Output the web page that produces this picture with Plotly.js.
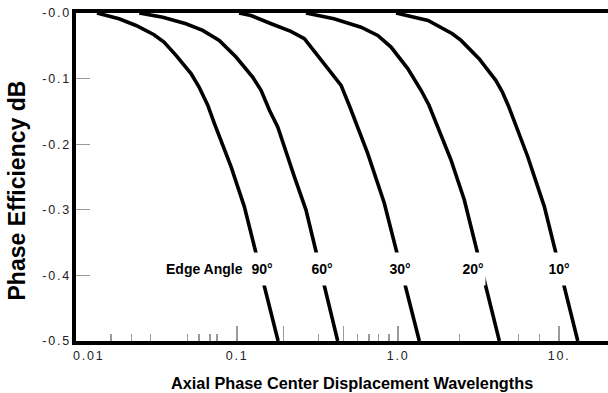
<!DOCTYPE html>
<html>
<head>
<meta charset="utf-8">
<script src="https://cdn.plot.ly/plotly-3.0.1.min.js"></script>
<style>
  html, body { margin: 0; padding: 0; background: #fff; }
  #chart { width: 608px; height: 393px; }
  .xtick text, .y2tick text { letter-spacing: 1.8px; }
</style>
</head>
<body>
<div id="chart"></div>
<script>
// ---- data ----
const angleNames = ['90°', '60°', '30°', '20°', '10°'];

const x90 = [0.0135, 0.0185, 0.0236, 0.0305, 0.0352, 0.0418, 0.0518, 0.0581, 0.0658, 0.0723, 0.0918, 0.111, 0.180];
const y90 = [0, -0.0088, -0.019, -0.0331, -0.0444, -0.0646, -0.0924, -0.1128, -0.1406, -0.1684, -0.2343, -0.2951, -0.5];

const x60 = [0.0247, 0.0346, 0.0482, 0.0612, 0.0776, 0.0986, 0.125, 0.141, 0.159, 0.179, 0.227, 0.268, 0.422];
const y60 = [0, -0.0064, -0.0164, -0.0266, -0.0418, -0.0672, -0.0976, -0.1178, -0.1482, -0.1736, -0.2495, -0.3001, -0.5];

const x30 = [0.103, 0.122, 0.163, 0.216, 0.262, 0.317, 0.384, 0.443, 0.503, 0.648, 0.822, 1.356];
const y30 = [0, -0.0038, -0.0164, -0.0281, -0.0392, -0.0646, -0.09, -0.1102, -0.1436, -0.214, -0.29, -0.5];

const x20 = [0.268, 0.400, 0.589, 0.748, 0.905, 1.149, 1.39, 1.557, 2.134, 2.581, 4.258];
const y20 = [0, -0.0088, -0.0216, -0.0342, -0.052, -0.0848, -0.1178, -0.1406, -0.2242, -0.285, -0.5];

const x10 = [0.972, 1.536, 2.174, 2.462, 3.185, 4.045, 4.444, 4.857, 6.392, 8.102, 13.07];
const y10 = [0, -0.0114, -0.0316, -0.0418, -0.0696, -0.1026, -0.1204, -0.1421, -0.2191, -0.2951, -0.5];

const seriesX = [x90, x60, x30, x20, x10];
const seriesY = [y90, y60, y30, y20, y10];

// tick labels and tick marks
const xLabelVals = [0.012, 0.1, 1, 10];
const xLabelText = ['0.01', '0.1', '1.0', '10.'];
const xMajorTicks = [0.1, 0.195, 0.46, 1, 10];
const xMinorTicks = [0.0165, 0.022, 0.029, 0.049, 0.058, 0.068, 0.075, 0.32, 0.56, 0.66, 0.76, 0.88, 2.4, 5.6, 7.6];
const yTickVals = [0, -0.1, -0.2, -0.3, -0.4, -0.5];
const yTickText = ['-0.0', '-0.1', '-0.2', '-0.3', '-0.4', '-0.5'];
const yInnerTicks = [-0.1, -0.2, -0.3, -0.4];

// titles and label positions
const xTitleText = 'Axial Phase Center Displacement Wavelengths';
const yTitleText = 'Phase Efficiency dB';
const angleLabelX = [0.143, 0.337, 1.03, 2.94, 9.93];
const angleLabelY = -0.39;
const edgeLabelX = 0.0624;
const edgeLabelText = 'Edge Angle';

// ---- build chart ----
const FONT = 'Liberation Sans, Arial, Helvetica, sans-serif';
const xRange = [-2, 1.304];
const yRange = [-0.5, 0];
const TICKGRAY = '#9a9a9a';

const traces = seriesX.map((xs, i) => ({
  x: xs, y: seriesY[i], name: angleNames[i],
  type: 'scatter', mode: 'lines',
  line: { color: '#000', width: 3.6 },
  showlegend: false, hoverinfo: 'skip'
}));
// placeholder traces so the overlay axes get drawn
[['x2', 'y'], ['x3', 'y'], ['x', 'y2']].forEach(([xa, ya]) => {
  traces.push({ x: [1], y: [null], xaxis: xa, yaxis: ya, type: 'scatter', mode: 'lines',
                showlegend: false, hoverinfo: 'skip' });
});

const annotations = angleNames.map((t, i) => ({
  x: Math.log10(angleLabelX[i]), y: angleLabelY, xref: 'x', yref: 'y',
  text: '<b>' + t + '</b>', showarrow: false,
  font: { family: FONT, size: 14, color: '#000' },
  bgcolor: '#fff', height: 32, width: 24, borderpad: 0
}));
annotations.push({
  x: Math.log10(edgeLabelX), y: angleLabelY, xref: 'x', yref: 'y',
  text: '<b>' + edgeLabelText + '</b>', showarrow: false,
  font: { family: FONT, size: 14, color: '#000' }
});
annotations.push({
  x: 0.518, y: -0.128, xref: 'paper', yref: 'paper', xanchor: 'center', yanchor: 'middle',
  text: '<b>' + xTitleText + '</b>', showarrow: false,
  font: { family: FONT, size: 16.3, color: '#000' }
});
annotations.push({
  x: -0.1109, y: 0.4588, xref: 'paper', yref: 'paper', xanchor: 'center', yanchor: 'middle',
  text: '<b>' + yTitleText + '</b>', showarrow: false, textangle: -90,
  font: { family: FONT, size: 23, color: '#000' }
});

const tickAxisBase = {
  type: 'log', range: xRange, overlaying: 'x', anchor: 'y', side: 'bottom',
  fixedrange: true, showline: false, showgrid: false, zeroline: false,
  tickmode: 'array', ticks: 'inside', tickcolor: TICKGRAY, tickwidth: 1.2,
  showticklabels: false
};

const layout = {
  width: 608, height: 393,
  margin: { l: 76, r: 0, t: 13, b: 52 },
  paper_bgcolor: '#fff', plot_bgcolor: '#fff',
  showlegend: false,
  xaxis: {
    type: 'log', range: xRange, fixedrange: true,
    showline: true, linewidth: 4, linecolor: '#000', mirror: true,
    showgrid: false, zeroline: false,
    tickmode: 'array', tickvals: xLabelVals, ticktext: xLabelText,
    ticks: '', ticklen: 0, tickcolor: 'rgba(0,0,0,0)',
    tickfont: { family: FONT, size: 12.5, color: '#222' }
  },
  xaxis2: Object.assign({}, tickAxisBase, { tickvals: xMajorTicks, ticklen: 15 }),
  xaxis3: Object.assign({}, tickAxisBase, { tickvals: xMinorTicks, ticklen: 7 }),
  // main y axis: the black line and the short grey ticks inside the plot
  yaxis: {
    range: yRange, fixedrange: true,
    showline: true, linewidth: 4, linecolor: '#000',
    showgrid: false, zeroline: false,
    tickmode: 'array', tickvals: yInnerTicks, ticks: 'inside', ticklen: 14,
    tickcolor: TICKGRAY, tickwidth: 1.2, showticklabels: false
  },
  // overlay y axis: the tick labels only
  yaxis2: {
    range: yRange, overlaying: 'y', anchor: 'x', side: 'left', fixedrange: true,
    showline: false, showgrid: false, zeroline: false,
    tickmode: 'array', tickvals: yTickVals, ticktext: yTickText,
    ticks: '', ticklen: 0, tickcolor: 'rgba(0,0,0,0)', ticklabelstandoff: 4,
    tickfont: { family: FONT, size: 12.5, color: '#222' }
  },
  annotations: annotations
};

Plotly.newPlot('chart', traces, layout, { staticPlot: true, displayModeBar: false });
</script>
</body>
</html>
